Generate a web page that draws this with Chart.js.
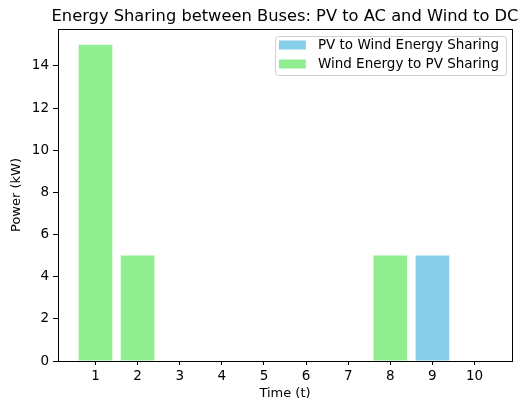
<!DOCTYPE html>
<html>
<head>
<meta charset="utf-8">
<script src="https://cdn.jsdelivr.net/npm/chart.js@4.4.1/dist/chart.umd.min.js"></script>
<style>
  html, body { margin: 0; padding: 0; background: #fff; }
  #wrap { width: 520px; height: 403px; position: relative; }
</style>
</head>
<body>
<div id="wrap"><canvas id="energyChart" width="520" height="403"></canvas></div>
<script>
// data
var timeSteps = [1, 2, 3, 4, 5, 6, 7, 8, 9, 10];
var pvToWind = [0, 0, 0, 0, 0, 0, 0, 0, 5, 0];
var windToPv = [15, 5, 0, 0, 0, 0, 0, 5, 0, 0];
var yTicks = [0, 2, 4, 6, 8, 10, 12, 14];
var chartTitle = 'Energy Sharing between Buses: PV to AC and Wind to DC';

var FONT = "'DejaVu Sans', sans-serif";

// top/right spines like matplotlib, plus the title centred over the axes
var boxPlugin = {
    id: 'boxPlugin',
    afterDraw: function (chart) {
        var a = chart.chartArea, ctx = chart.ctx;
        ctx.save();
        ctx.strokeStyle = '#000';
        ctx.lineWidth = 1;
        ctx.strokeRect(Math.round(a.left) + 0.5, Math.round(a.top) + 0.5,
            Math.round(a.right - a.left), Math.round(a.bottom - a.top));
        // title is wider than the axes, so no maxWidth squeeze here
        ctx.font = '16.3px ' + FONT;
        ctx.fillStyle = '#000';
        ctx.textAlign = 'center';
        ctx.textBaseline = 'alphabetic';
        ctx.fillText(chartTitle, (a.left + a.right) / 2, a.top - 8);
        ctx.restore();
    }
};

// legend box in the upper right corner of the plot
var legendBox = {
    id: 'legendBox',
    afterDraw: function (chart) {
        var a = chart.chartArea, ctx = chart.ctx;
        var sets = chart.data.datasets;
        ctx.save();
        ctx.font = '13.5px ' + FONT;
        var tw = 0;
        sets.forEach(function (d) { tw = Math.max(tw, ctx.measureText(d.label).width); });
        var rowH = 19, patchW = 27;
        var w = 4 + patchW + 12 + tw + 7;
        var h = 39;
        var x = a.right - 6 - w, y = a.top + 6.5;
        ctx.fillStyle = 'rgba(255,255,255,0.8)';
        ctx.strokeStyle = '#d0d0d0';
        ctx.lineWidth = 1;
        ctx.beginPath();
        ctx.roundRect(Math.round(x) + 0.5, Math.round(y) + 0.5, Math.round(w), Math.round(h), 3);
        ctx.fill();
        ctx.stroke();
        sets.forEach(function (d, i) {
            var cy = y + 9.5 + rowH * i;
            ctx.fillStyle = d.backgroundColor;
            ctx.fillRect(x + 4, cy - 4.5, patchW, 9);
            ctx.fillStyle = '#000';
            ctx.textBaseline = 'middle';
            ctx.fillText(d.label, x + 4 + patchW + 12, cy);
        });
        ctx.restore();
    }
};

new Chart(document.getElementById('energyChart'), {
    type: 'bar',
    data: {
        labels: timeSteps,
        datasets: [
            {
                label: 'PV to Wind Energy Sharing',
                data: pvToWind,
                backgroundColor: '#87CEEB',
                grouped: false,
                categoryPercentage: 1,
                barPercentage: 0.8
            },
            {
                label: 'Wind Energy to PV Sharing',
                data: windToPv,
                backgroundColor: '#90EE90',
                grouped: false,
                categoryPercentage: 1,
                barPercentage: 0.8
            }
        ]
    },
    options: {
        responsive: false,
        animation: false,
        layout: { padding: { left: 0, right: 8, top: 29, bottom: 0 } },
        plugins: {
            legend: { display: false },
            tooltip: { enabled: false },
            title: { display: false }
        },
        scales: {
            x: {
                type: 'linear',
                min: 0.11,
                max: 10.89,
                offset: false,
                afterBuildTicks: function (s) { s.ticks = timeSteps.map(function (v) { return { value: v }; }); },
                afterFit: function (s) { s.height = 42; },
                grid: { offset: false, drawOnChartArea: false, drawTicks: true, tickLength: 4, color: '#000' },
                border: { color: '#000', width: 1 },
                ticks: { color: '#000', font: { family: FONT, size: 13.5 }, padding: 3, autoSkip: false, maxRotation: 0 },
                title: { display: true, text: 'Time (t)', color: '#000', font: { family: FONT, size: 13 }, padding: { top: 0, bottom: 2 } }
            },
            y: {
                min: 0,
                max: 15.75,
                afterBuildTicks: function (s) { s.ticks = yTicks.map(function (v) { return { value: v }; }); },
                afterFit: function (s) { s.width = 58; },
                grid: { drawOnChartArea: false, drawTicks: true, tickLength: 5, color: '#000' },
                border: { color: '#000', width: 1 },
                ticks: { color: '#000', font: { family: FONT, size: 13.5 }, padding: 4 },
                title: { display: true, text: 'Power (kW)', color: '#000', font: { family: FONT, size: 13 }, padding: { top: 9, bottom: 0 } }
            }
        }
    },
    plugins: [boxPlugin, legendBox]
});
</script>
</body>
</html>
